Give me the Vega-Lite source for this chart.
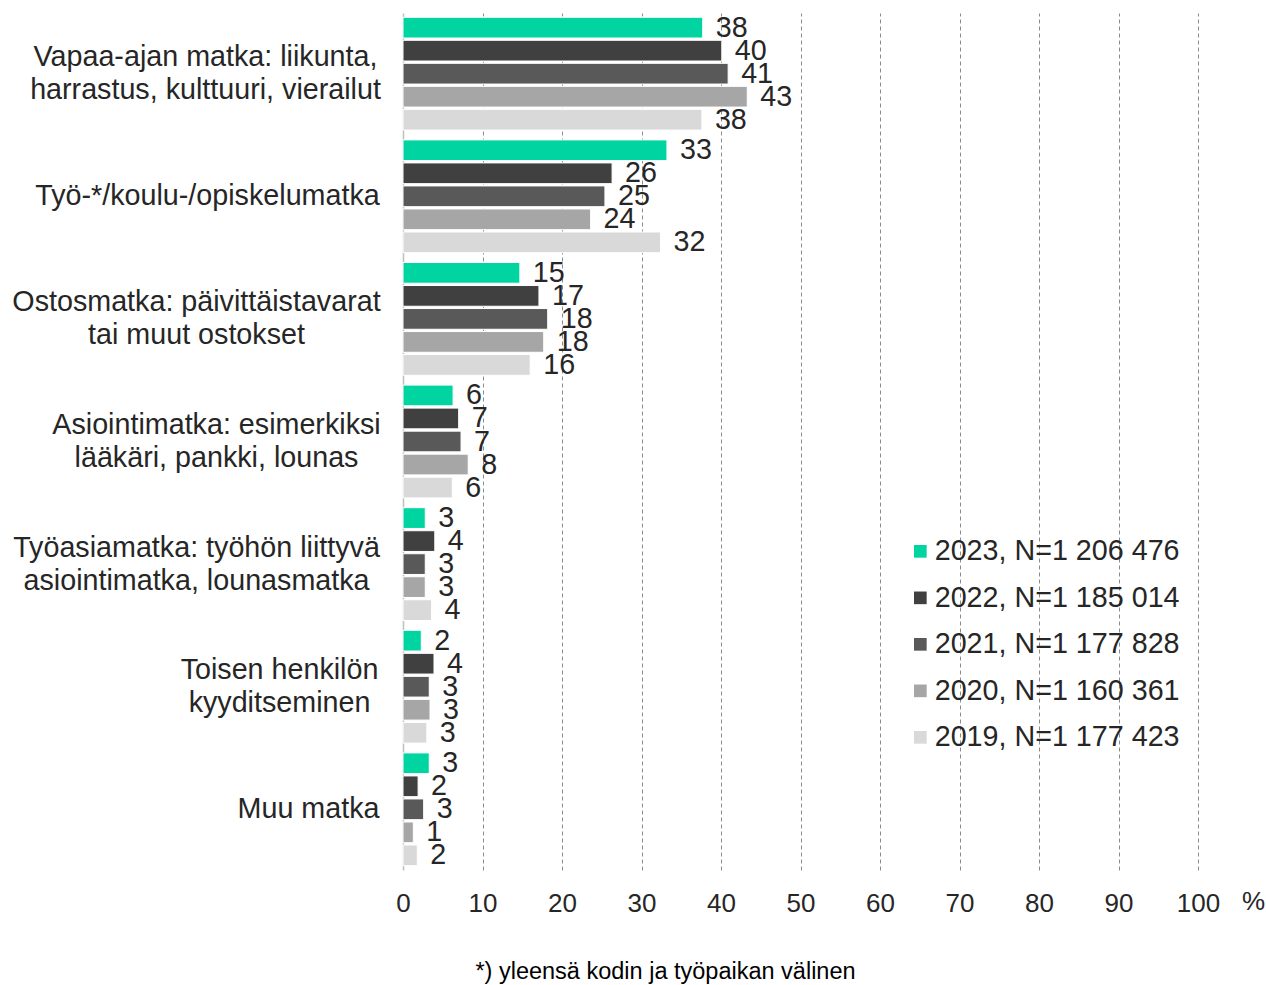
{
  "$schema": "https://vega.github.io/schema/vega-lite/v6.json",
  "width": 795,
  "height": 857,
  "autosize": {"type": "none"},
  "padding": {"left": 403, "top": 13, "right": 68, "bottom": 115},
  "background": "white",
  "config": {"view": {"stroke": null}, "font": "Liberation Sans"},
  "title": {"text": "*) yleensä kodin ja työpaikan välinen", "orient": "bottom", "anchor": "middle", "fontSize": 23.5, "fontWeight": "normal", "color": "#000000", "dx": -135, "offset": 44, "font": "Liberation Sans"},
  "data": {"values": [
    {"category": "Vapaa-ajan matka: liikunta,|harrastus, kulttuuri, vierailut", "series": "2023, N=1 206 476", "value": 37.7},
    {"category": "Vapaa-ajan matka: liikunta,|harrastus, kulttuuri, vierailut", "series": "2022, N=1 185 014", "value": 40.1},
    {"category": "Vapaa-ajan matka: liikunta,|harrastus, kulttuuri, vierailut", "series": "2021, N=1 177 828", "value": 40.9},
    {"category": "Vapaa-ajan matka: liikunta,|harrastus, kulttuuri, vierailut", "series": "2020, N=1 160 361", "value": 43.3},
    {"category": "Vapaa-ajan matka: liikunta,|harrastus, kulttuuri, vierailut", "series": "2019, N=1 177 423", "value": 37.6},
    {"category": "Työ-*/koulu-/opiskelumatka", "series": "2023, N=1 206 476", "value": 33.2},
    {"category": "Työ-*/koulu-/opiskelumatka", "series": "2022, N=1 185 014", "value": 26.3},
    {"category": "Työ-*/koulu-/opiskelumatka", "series": "2021, N=1 177 828", "value": 25.4},
    {"category": "Työ-*/koulu-/opiskelumatka", "series": "2020, N=1 160 361", "value": 23.6},
    {"category": "Työ-*/koulu-/opiskelumatka", "series": "2019, N=1 177 423", "value": 32.4},
    {"category": "Ostosmatka: päivittäistavarat|tai muut ostokset", "series": "2023, N=1 206 476", "value": 14.7},
    {"category": "Ostosmatka: päivittäistavarat|tai muut ostokset", "series": "2022, N=1 185 014", "value": 17.1},
    {"category": "Ostosmatka: päivittäistavarat|tai muut ostokset", "series": "2021, N=1 177 828", "value": 18.2},
    {"category": "Ostosmatka: päivittäistavarat|tai muut ostokset", "series": "2020, N=1 160 361", "value": 17.7},
    {"category": "Ostosmatka: päivittäistavarat|tai muut ostokset", "series": "2019, N=1 177 423", "value": 16.0},
    {"category": "Asiointimatka: esimerkiksi|lääkäri, pankki, lounas", "series": "2023, N=1 206 476", "value": 6.3},
    {"category": "Asiointimatka: esimerkiksi|lääkäri, pankki, lounas", "series": "2022, N=1 185 014", "value": 7.0},
    {"category": "Asiointimatka: esimerkiksi|lääkäri, pankki, lounas", "series": "2021, N=1 177 828", "value": 7.3},
    {"category": "Asiointimatka: esimerkiksi|lääkäri, pankki, lounas", "series": "2020, N=1 160 361", "value": 8.2},
    {"category": "Asiointimatka: esimerkiksi|lääkäri, pankki, lounas", "series": "2019, N=1 177 423", "value": 6.2},
    {"category": "Työasiamatka: työhön liittyvä|asiointimatka, lounasmatka", "series": "2023, N=1 206 476", "value": 2.8},
    {"category": "Työasiamatka: työhön liittyvä|asiointimatka, lounasmatka", "series": "2022, N=1 185 014", "value": 4.0},
    {"category": "Työasiamatka: työhön liittyvä|asiointimatka, lounasmatka", "series": "2021, N=1 177 828", "value": 2.8},
    {"category": "Työasiamatka: työhön liittyvä|asiointimatka, lounasmatka", "series": "2020, N=1 160 361", "value": 2.8},
    {"category": "Työasiamatka: työhön liittyvä|asiointimatka, lounasmatka", "series": "2019, N=1 177 423", "value": 3.6},
    {"category": "Toisen henkilön|kyyditseminen", "series": "2023, N=1 206 476", "value": 2.3},
    {"category": "Toisen henkilön|kyyditseminen", "series": "2022, N=1 185 014", "value": 3.9},
    {"category": "Toisen henkilön|kyyditseminen", "series": "2021, N=1 177 828", "value": 3.3},
    {"category": "Toisen henkilön|kyyditseminen", "series": "2020, N=1 160 361", "value": 3.4},
    {"category": "Toisen henkilön|kyyditseminen", "series": "2019, N=1 177 423", "value": 3.0},
    {"category": "Muu matka", "series": "2023, N=1 206 476", "value": 3.3},
    {"category": "Muu matka", "series": "2022, N=1 185 014", "value": 1.9},
    {"category": "Muu matka", "series": "2021, N=1 177 828", "value": 2.6},
    {"category": "Muu matka", "series": "2020, N=1 160 361", "value": 1.3},
    {"category": "Muu matka", "series": "2019, N=1 177 423", "value": 1.8}
  ]},
  "encoding": {
    "y": {
      "field": "category", "type": "nominal", "sort": null,
      "scale": {"paddingInner": 0.05, "paddingOuter": 0.02},
      "axis": {
        "title": null, "domainColor": "#bfbfbf", "domainWidth": 1.5, "ticks": false, "tickSize": 0, "grid": false,
        "labelFontSize": 28.7, "labelColor": "#262626", "labelLimit": 600, "labelAlign": "center", "labelBaseline": "middle",
        "labelLineHeight": 33, "labelFont": "Liberation Sans",
        "labelExpr": "split(datum.label, '|')",
        "labelOffset": {"condition": {"test": "indexof(datum.value,'|')>=0", "value": -16.5}, "value": 0},
        "labelPadding": {
          "condition": [
            {"test": "indexof(datum.value,'Vapaa')==0", "value": 198},
            {"test": "indexof(datum.value,'Työ-')==0", "value": 196},
            {"test": "indexof(datum.value,'Ostos')==0", "value": 207},
            {"test": "indexof(datum.value,'Asioin')==0", "value": 187},
            {"test": "indexof(datum.value,'Työasia')==0", "value": 207},
            {"test": "indexof(datum.value,'Toisen')==0", "value": 124}
          ],
          "value": 95
        }
      }
    },
    "yOffset": {"field": "series", "type": "nominal", "sort": null, "scale": {"paddingInner": 0.1, "paddingOuter": 0.08}}
  },
  "layer": [
    {
      "mark": {"type": "bar", "stroke": "white", "strokeWidth": 1},
      "encoding": {
        "x": {
          "field": "value", "type": "quantitative", "scale": {"domain": [0, 100], "nice": false},
          "axis": {
            "values": [0, 10, 20, 30, 40, 50, 60, 70, 80, 90, 100],
            "domain": false, "ticks": false, "labelFontSize": 26, "labelColor": "#262626", "labelPadding": 20, "labelFont": "Liberation Sans",
            "labelFlush": false,
            "gridDash": [4, 3], "gridColor": "#8c8c8c", "gridWidth": 1,
            "gridOpacity": {"condition": {"test": "datum.value == 0", "value": 0}, "value": 1},
            "title": "%", "titleFontSize": 26, "titleFontWeight": "normal", "titleColor": "#262626", "titleFont": "Liberation Sans",
            "titleX": 850, "titleY": 31, "titleAngle": 0, "titleAlign": "center", "titleBaseline": "middle"
          }
        },
        "color": {
          "field": "series", "type": "nominal", "sort": null,
          "scale": {"range": ["#00D4A0", "#404040", "#595959", "#A6A6A6", "#D9D9D9"]},
          "legend": {
            "orient": "none", "legendX": 503, "legendY": 524, "title": null, "symbolType": "square", "symbolSize": 160,
            "symbolStrokeWidth": 0, "labelFontSize": 28.7, "labelColor": "#262626", "labelFont": "Liberation Sans", "rowPadding": 16.5, "labelOffset": 0, "labelLimit": 400
          }
        }
      }
    },
    {
      "mark": {"type": "text", "align": "left", "baseline": "middle", "dx": 13, "dy": 0, "fontSize": 28.7, "color": "#262626", "font": "Liberation Sans"},
      "encoding": {
        "x": {"field": "value", "type": "quantitative"},
        "text": {"field": "value", "type": "quantitative", "format": ".0f"}
      }
    }
  ]
}
